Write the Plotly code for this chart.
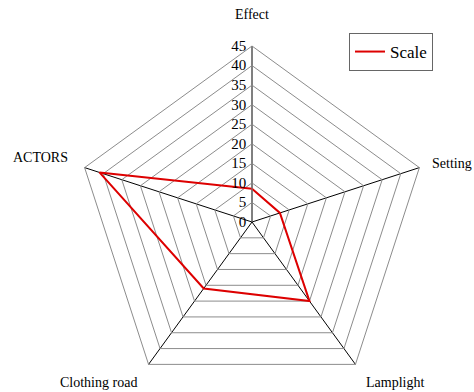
import plotly.graph_objects as go

# Radar data
categories = ["Effect", "Setting", "Lamplight", "Clothing road", "ACTORS"]
scale_values = [8.5, 7.5, 25, 21, 41]
series_name = "Scale"

radial_max = 45
radial_step = 5

# Canvas geometry (pixels)
W, H = 474, 400
CX, CY, R = 252, 222, 176
ML, MT = CX - R, CY - R
MR, MB = W - CX - R, H - CY - R
PW, PH = W - ML - MR, H - MT - MB

FONT = "Liberation Serif, Times New Roman, serif"


def px(x):
    return (x - ML) / PW


def py(y):
    return 1 - (y - MT) / PH


fig = go.Figure()
fig.add_trace(go.Scatterpolar(
    r=scale_values + scale_values[:1],
    theta=categories + categories[:1],
    mode="lines",
    name=series_name,
    line=dict(color="#dd0000", width=2),
    showlegend=True,
))

# Category labels around the outside
label_pos = {
    "Effect": (CX, 15, "center"),
    "Setting": (474, 163, "right"),
    "Lamplight": (395, 382, "center"),
    "Clothing road": (98, 382, "center"),
    "ACTORS": (40, 157, "center"),
}
annotations = []
for cat in categories:
    x, y, anchor = label_pos[cat]
    annotations.append(dict(
        text=cat, x=px(x), y=py(y), xref="paper", yref="paper",
        xanchor=anchor, yanchor="middle", showarrow=False,
        font=dict(family=FONT, size=14, color="#000000"),
    ))

fig.update_layout(
    width=W, height=H,
    margin=dict(l=ML, r=MR, t=MT, b=MB, pad=0),
    paper_bgcolor="white",
    plot_bgcolor="white",
    font=dict(family=FONT, color="#000000"),
    annotations=annotations,
    showlegend=True,
    legend=dict(
        x=px(391), y=py(52), xanchor="center", yanchor="middle",
        bgcolor="white", bordercolor="#666666", borderwidth=1,
        font=dict(family=FONT, size=17, color="#000000"),
    ),
    polar=dict(
        domain=dict(x=[0, 1], y=[0, 1]),
        bgcolor="white",
        gridshape="linear",
        radialaxis=dict(
            range=[0, radial_max], tick0=0, dtick=radial_step,
            angle=90, side="counterclockwise", tickangle=90,
            showline=True, linecolor="#808080", linewidth=1,
            gridcolor="#8c8c8c", gridwidth=1,
            ticks="",
            tickfont=dict(family=FONT, size=15, color="#000000"),
        ),
        angularaxis=dict(
            direction="clockwise", rotation=90,
            showline=True, linecolor="#8c8c8c", linewidth=1,
            gridcolor="#000000", gridwidth=1,
            showticklabels=False, ticks="",
        ),
    ),
)

fig.write_html("out.html")
